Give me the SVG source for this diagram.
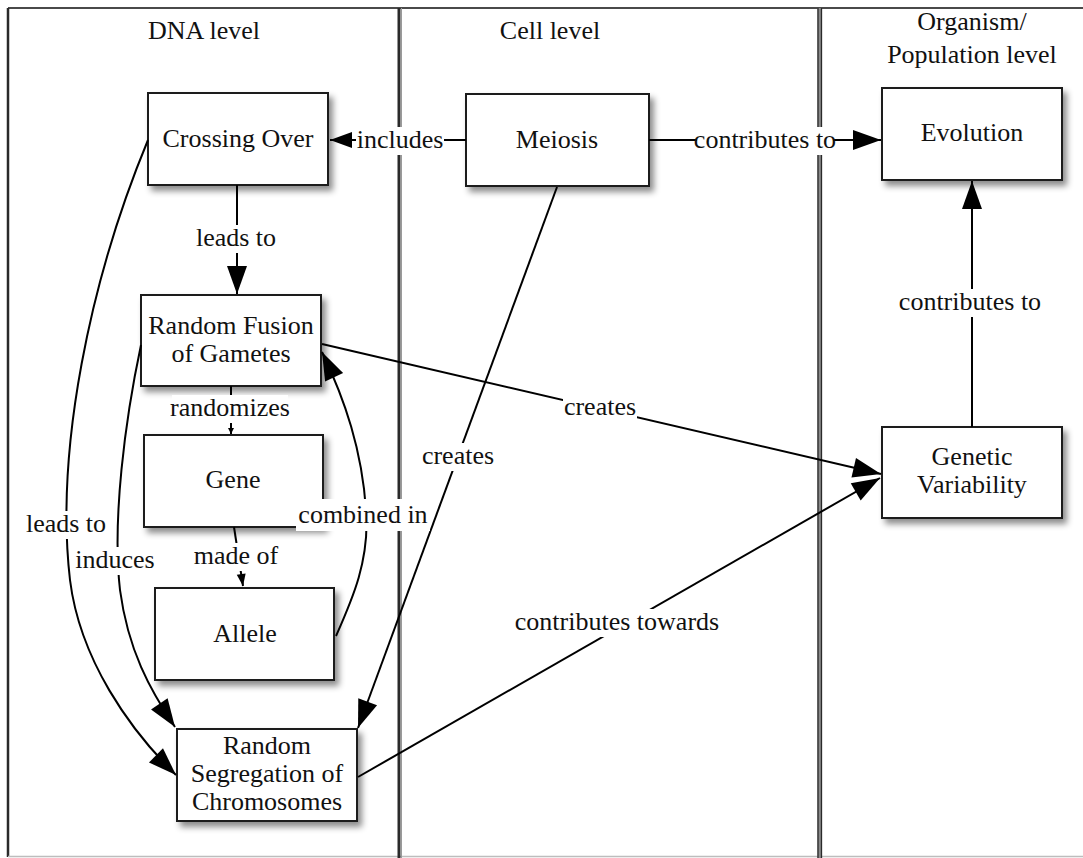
<svg xmlns="http://www.w3.org/2000/svg" width="1083" height="858" viewBox="0 0 1083 858" font-family="'Liberation Serif', 'Times New Roman', Times, 'DejaVu Serif', serif">
  <defs>
    <style>
      text { font-family: 'Liberation Serif', 'Times New Roman', Times, 'DejaVu Serif', serif; font-size: 26px; fill: #111; text-anchor: middle; }
      .box { fill: #fff; stroke: #1a1a1a; stroke-width: 2; }
      .edge { fill: none; stroke: #000; stroke-width: 2; }
      .lbg { fill: #fff; }
      .lane { stroke: #2a2a2a; }
    </style>
    <filter id="shadow" x="-20%" y="-20%" width="150%" height="150%">
      <feDropShadow dx="4" dy="5" stdDeviation="3" flood-color="#000" flood-opacity="0.45"/>
    </filter>
    <marker id="arrow" viewBox="-30 -12 32 24" refX="0" refY="0" markerWidth="32" markerHeight="24" markerUnits="userSpaceOnUse" orient="auto">
      <path d="M0,0 L-28,-10 L-28,10 Z" fill="#000"/>
    </marker>
    <marker id="arrowMid" viewBox="-24 -9 26 18" refX="0" refY="0" markerWidth="26" markerHeight="18" markerUnits="userSpaceOnUse" orient="auto">
      <path d="M0,0 L-22,-8 L-22,8 Z" fill="#000"/>
    </marker>
    <marker id="arrowSmall" viewBox="-14 -6 16 12" refX="0" refY="0" markerWidth="16" markerHeight="12" markerUnits="userSpaceOnUse" orient="auto">
      <path d="M0,0 L-12,-4.5 L-12,4.5 Z" fill="#000"/>
    </marker>
    <marker id="arrowTiny" viewBox="-7 -4 8 8" refX="0" refY="0" markerWidth="8" markerHeight="8" markerUnits="userSpaceOnUse" orient="auto">
      <path d="M0,0 L-6,-3 L-6,3 Z" fill="#000"/>
    </marker>
  </defs>

  <rect width="1083" height="858" fill="#fff"/>

  <!-- swimlanes -->
  <g id="lanes">
    <line x1="8" y1="8" x2="1083" y2="8" stroke="#4a4a4a" stroke-width="2"/>
    <line x1="8" y1="8" x2="8" y2="857" class="lane" stroke-width="2.5"/>
    <line x1="8" y1="856.5" x2="1083" y2="856.5" stroke="#bdbdbd" stroke-width="1.5"/>
    <line x1="399" y1="8" x2="399" y2="858" class="lane" stroke-width="3"/>
    <line x1="401.5" y1="8" x2="401.5" y2="858" stroke="#9a9a9a" stroke-width="1"/>
    <line x1="819.7" y1="8" x2="819.7" y2="858" stroke="#8a8a8a" stroke-width="4.5"/>
    <line x1="818" y1="8" x2="818" y2="858" class="lane" stroke-width="1.3"/>
    <line x1="821.5" y1="8" x2="821.5" y2="858" class="lane" stroke-width="1.3"/>
    <text x="204" y="39">DNA level</text>
    <text x="550" y="39">Cell level</text>
    <text x="972" y="30">Organism/</text>
    <text x="972" y="63">Population level</text>
  </g>

  <!-- concepts -->
  <g id="crossing-over">
    <rect class="box" x="148" y="93" width="180" height="92" filter="url(#shadow)"/>
    <text x="238" y="147">Crossing Over</text>
  </g>
  <g id="meiosis">
    <rect class="box" x="466" y="94" width="183" height="92" filter="url(#shadow)"/>
    <text x="557" y="148">Meiosis</text>
  </g>
  <g id="evolution">
    <rect class="box" x="882" y="88" width="180" height="92" filter="url(#shadow)"/>
    <text x="972" y="141">Evolution</text>
  </g>
  <g id="random-fusion">
    <rect class="box" x="141" y="295" width="180" height="91" filter="url(#shadow)"/>
    <text x="231" y="334">Random Fusion</text>
    <text x="231" y="362">of Gametes</text>
  </g>
  <g id="gene">
    <rect class="box" x="144" y="435" width="179" height="92" filter="url(#shadow)"/>
    <text x="233" y="488">Gene</text>
  </g>
  <g id="allele">
    <rect class="box" x="155" y="588" width="179" height="92" filter="url(#shadow)"/>
    <text x="245" y="642">Allele</text>
  </g>
  <g id="random-segregation">
    <rect class="box" x="177" y="729" width="180" height="92" filter="url(#shadow)"/>
    <text x="267" y="754">Random</text>
    <text x="267" y="782">Segregation of</text>
    <text x="267" y="810">Chromosomes</text>
  </g>
  <g id="genetic-variability">
    <rect class="box" x="882" y="427" width="180" height="91" filter="url(#shadow)"/>
    <text x="972" y="465">Genetic</text>
    <text x="972" y="493">Variability</text>
  </g>

  <!-- links -->
  <g id="connectors">
    <path class="edge" d="M466,140 L330,140" marker-end="url(#arrowMid)"/>
    <path class="edge" d="M649,140 L881,140" marker-end="url(#arrow)"/>
    <path class="edge" d="M237,185 L237,294" marker-end="url(#arrow)"/>
    <path class="edge" d="M231,386 L231,434" marker-end="url(#arrowTiny)" stroke-width="1.2"/>
    <path class="edge" d="M234,527 L243,586" marker-end="url(#arrowSmall)" stroke-width="1.5"/>
    <path class="edge" d="M336,636 C352,600 370,560 366,510 C362,450 345,400 322,352" marker-end="url(#arrow)"/>
    <path class="edge" d="M148,140 C90,280 55,450 70,580 C80,660 130,730 176,775" marker-end="url(#arrow)"/>
    <path class="edge" d="M141,345 C125,420 112,520 120,590 C128,650 150,690 175,727" marker-end="url(#arrow)"/>
    <path class="edge" d="M557,187 L358,728" marker-end="url(#arrow)"/>
    <path class="edge" d="M322,344 L881,474" marker-end="url(#arrow)"/>
    <path class="edge" d="M358,777 L880,478" marker-end="url(#arrow)"/>
    <path class="edge" d="M972,427 L972,181" marker-end="url(#arrow)"/>

    <g id="label-includes"><rect class="lbg" x="356" y="127" width="88" height="28"/><text x="400" y="148">includes</text></g>
    <g id="label-contributes-evo"><rect class="lbg" x="697" y="127" width="136" height="28"/><text x="765" y="148">contributes to</text></g>
    <g id="label-leads-to"><rect class="lbg" x="197" y="225" width="78" height="28"/><text x="236" y="246">leads to</text></g>
    <g id="label-randomizes"><rect class="lbg" x="172" y="395" width="116" height="28"/><text x="230" y="416">randomizes</text></g>
    <g id="label-made-of"><rect class="lbg" x="195" y="543" width="82" height="28"/><text x="236" y="564">made of</text></g>
    <g id="label-combined-in"><rect class="lbg" x="296" y="499" width="134" height="32"/><text x="363" y="523">combined in</text></g>
    <g id="label-creates-seg"><rect class="lbg" x="421" y="443" width="74" height="28"/><text x="458" y="464">creates</text></g>
    <g id="label-creates-var"><rect class="lbg" x="563" y="394" width="74" height="28"/><text x="600" y="415">creates</text></g>
    <g id="label-contributes-up"><rect class="lbg" x="902" y="289" width="136" height="28"/><text x="970" y="310">contributes to</text></g>
    <g id="label-leads-to-seg"><rect class="lbg" x="26" y="511" width="80" height="28"/><text x="66" y="532">leads to</text></g>
    <g id="label-induces"><rect class="lbg" x="76" y="547" width="78" height="28"/><text x="115" y="568">induces</text></g>
    <g id="label-towards"><rect class="lbg" x="514" y="609" width="206" height="28"/><text x="617" y="630">contributes towards</text></g>
  </g>
</svg>
